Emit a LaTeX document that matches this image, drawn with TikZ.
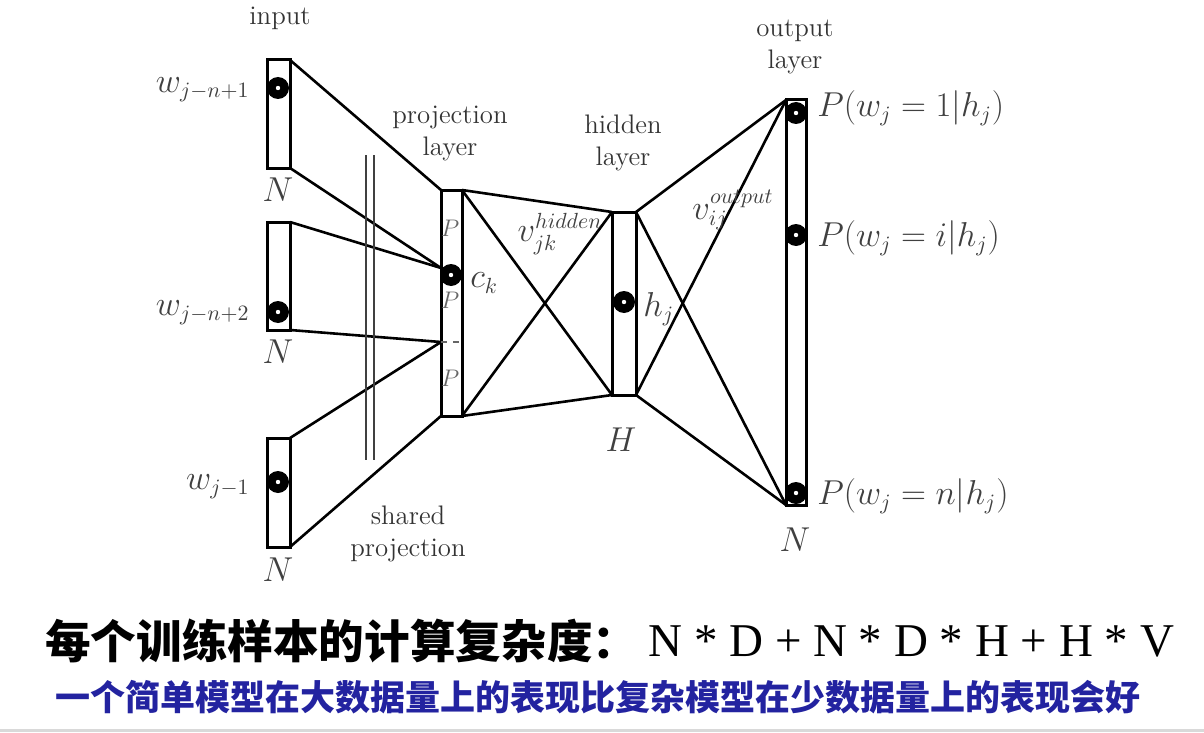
\documentclass[tikz,border=0pt]{standalone}
\usepackage{fontspec}
\usepackage{tikz}
\newfontfamily\cjkfont{Noto Sans CJK SC}
\newfontfamily\timesfont{Liberation Serif}
\definecolor{noteblue}{RGB}{35,35,160}

\begin{document}
\begin{tikzpicture}[
	x=0.5pt, y=-0.5pt,
	layer/.style={draw, line width=1.5pt, inner sep=0pt, outer sep=0pt},
	unit/.style={circle, fill=black, minimum size=11pt, inner sep=0pt,
		path picture={\fill[white] (path picture bounding box.center) circle (1.1pt);}},
	wire/.style={line width=1.3pt, line join=round},
	lbl/.style={font=\fontsize{13.4}{16}\selectfont, align=center, text=black!80},
	mlbl/.style={font=\fontsize{16}{18}\selectfont, text=black!75, inner sep=0pt},
	plbl/.style={font=\fontsize{12}{14}\selectfont, text=black!60, inner sep=0pt}
]
\useasboundingbox (0,0) rectangle (1204,733);

% layers
\node[layer, minimum width=11.5pt, minimum height=54pt] (in1) at (278.5,114) {};
\node[layer, minimum width=11.5pt, minimum height=54pt] (in2) at (278.5,276) {};
\node[layer, minimum width=11.5pt, minimum height=54.5pt] (in3) at (278.5,492.5) {};
\node[layer, minimum width=10.5pt, minimum height=113pt] (proj) at (451.5,303) {};
\node[layer, minimum width=12pt, minimum height=91.5pt] (hid) at (624,303.5) {};
\node[layer, minimum width=10pt, minimum height=202.5pt] (out) at (796,302.5) {};

\coordinate (ck) at (441,268);
\coordinate (sep) at (441,342);

% active units
\node[unit] (x1) at (278,88) {};
\node[unit] (x2) at (278,312) {};
\node[unit] (x3) at (278,482) {};
\node[unit] (c) at (451,275) {};
\node[unit] (h) at (624,302) {};
\node[unit] (o1) at (796,113) {};
\node[unit] (oi) at (796,235) {};
\node[unit] (on) at (796,493) {};

% connections
\draw[wire] (in1.north east) -- (proj.north west);
\draw[wire] (in1.south east) -- (ck);
\draw[wire] (in2.north east) -- (ck);
\draw[wire] (in2.south east) -- (sep);
\draw[wire] (in3.north east) -- (sep);
\draw[wire] (in3.south east) -- (proj.south west);
\foreach \a in {north east, south east}
	\foreach \b in {north west, south west}
		\draw[wire] (proj.\a) -- (hid.\b);
\foreach \a in {north east, south east}
	\foreach \b in {north west, south west}
		\draw[wire] (hid.\a) -- (out.\b);

\draw[dashed, line width=0.6pt, black!60] (sep) -- (sep -| proj.east);
\draw[line width=0.7pt, black!75] (366,155) -- (366,460);
\draw[line width=0.7pt, black!75] (374,155) -- (374,460);

% labels
\node[lbl] (inputlbl) at (280,18) {input};
\node[lbl] (projlbl) at (450,133) {projection\\layer};
\node[lbl] (hidlbl) at (623,143) {hidden\\layer};
\node[lbl] (outlbl) at (795,47) {output\\layer};
\node[lbl] (sharedlbl) at (408,534) {shared\\projection};

\node[mlbl] (n1) at (278,190) {$N$};
\node[mlbl] (n2) at (278,352) {$N$};
\node[mlbl] (n3) at (278,570) {$N$};
\node[mlbl] (hh) at (621,440) {$H$};
\node[mlbl] (nout) at (795,540) {$N$};

\node[mlbl, anchor=east] (w1) at (250,90) {$w_{j-n+1}$};
\node[mlbl, anchor=east] (w2) at (250,313) {$w_{j-n+2}$};
\node[mlbl, anchor=east] (w3) at (250,487) {$w_{j-1}$};

\node[plbl] (p1) at (450,228) {$P$};
\node[plbl] (p2) at (450,300) {$P$};
\node[plbl] (p3) at (450,378) {$P$};
\node[mlbl, anchor=west] (cklbl) at (470,283) {$c_k$};
\node[mlbl, anchor=west] (hjlbl) at (643,309) {$h_j$};
\node[mlbl] (vhid) at (560,234) {$v^{hidden}_{jk}$};
\node[mlbl] (vout) at (733,210) {$v^{output}_{ij}$};

\node[mlbl, anchor=west] (po1) at (817,108) {$P(w_j=1|h_j)$};
\node[mlbl, anchor=west] (poi) at (817,238) {$P(w_j=i|h_j)$};
\node[mlbl, anchor=west] (pon) at (817,496) {$P(w_j=n|h_j)$};

% notes
\node[anchor=west, inner sep=0pt, font=\cjkfont\bfseries\fontsize{22.8}{25}\selectfont] (cost) at (45,641) {每个训练样本的计算复杂度：};
\node[anchor=west, inner sep=0pt, font=\timesfont\fontsize{23.5}{26}\selectfont] (costexpr) at (648,641) {N * D + N * D * H + H * V};
\node[anchor=west, inner sep=0pt, text=noteblue, font=\cjkfont\bfseries\fontsize{17.5}{20}\selectfont] (note) at (55,697) {一个简单模型在大数据量上的表现比复杂模型在少数据量上的表现会好};
\draw[black!15, line width=1.5pt] (0,730) -- (1204,730);
\end{tikzpicture}
\end{document}
